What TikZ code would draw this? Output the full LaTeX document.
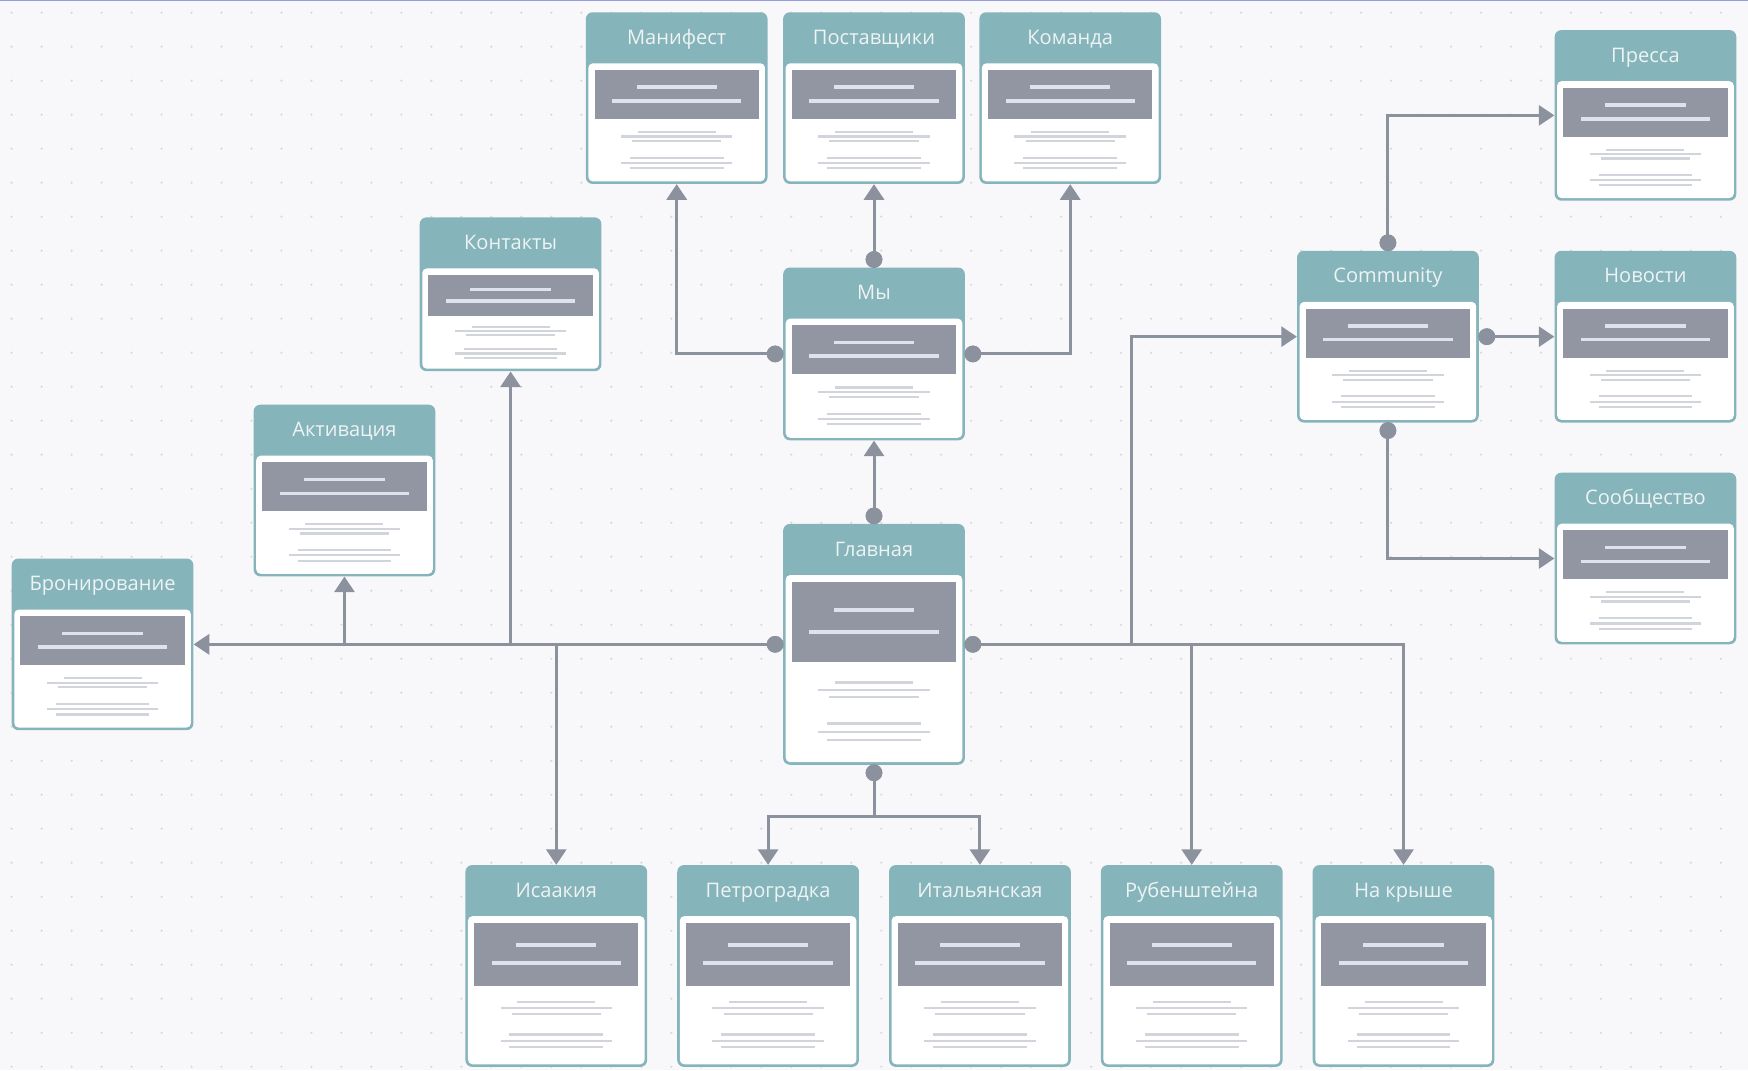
\documentclass[tikz,border=0pt]{standalone}
\usepackage{fontspec}
\setmainfont{Open Sans}
\usetikzlibrary{arrows.meta,calc}
\definecolor{bg}{RGB}{248,248,251}
\definecolor{gridc}{RGB}{216,216,224}
\definecolor{head}{RGB}{133,180,187}
\definecolor{grayrect}{RGB}{145,150,162}
\definecolor{glight}{RGB}{222,226,236}
\definecolor{tline}{RGB}{210,212,219}
\definecolor{lc}{RGB}{140,145,158}
\definecolor{topline}{RGB}{150,156,225}
\definecolor{htext}{RGB}{238,243,244}
\tikzset{
  cardnode/.style={rectangle, fill=head, rounded corners=6pt, minimum width=163pt, inner sep=0pt, draw=none},
  headtext/.style={text=htext, font=\fontsize{18}{21}\selectfont, inner sep=0pt, anchor=base},
  dot/.style={circle, fill=lc, minimum size=15pt, inner sep=0pt},
  conn/.style={draw=lc, line width=2.7pt},
  arr/.style={conn, -{Triangle[width=18pt,length=14pt]}},
}
\newcommand\card[6]{%
  \node[cardnode, minimum height=#4pt] (#1) at (#2,{#3+#4/2}) {};
  \fill[white, rounded corners=4pt] ($(#1.north west)+(2.5,46)$) rectangle ($(#1.south east)+(-2.5,-2.5)$);
  \fill[grayrect] ($(#1.north west)+(8,52)$) rectangle ($(#1.north east)+(-8,{52+#6})$);
  \draw[glight, line width=3.2pt] ($(#1.north)+(-36,{52+0.35*#6})$) -- ++(72,0);
  \draw[glight, line width=3.2pt] ($(#1.north)+(-58,{52+0.63*#6})$) -- ++(116,0);
  \foreach \f/\w in {0.2/70,0.27/100,0.34/80,0.6/84,0.68/100,0.76/84}{%
    \draw[tline, line width=1.9pt] ($(#1.north)+({-\w/2},{52+#6+\f*(#4-52-#6)})$) -- ++(\w,0);}
  \node[headtext] (#1-t) at ($(#1.north)+(0,29)$) {#5};
}
\begin{document}
\begin{tikzpicture}[x=1pt,y=-1pt]
\useasboundingbox (0,0) rectangle (1568,960);
\fill[bg] (0,0) rectangle (1568,960);
\foreach \i in {0,...,58}{\foreach \j in {0,...,31}{%
  \fill[gridc] ({10.4+26.9*\i},{11.4+30.5*\j}) circle (1.1pt);}}
\draw[topline, line width=1.5pt] (0,0.5) -- (1568,0.5);

\card{man}{607}{11}{154}{Манифест}{44}
\card{pos}{784}{11}{154}{Поставщики}{44}
\card{kom}{960}{11}{154}{Команда}{44}
\card{kon}{458}{195}{138}{Контакты}{37}
\card{my}{784}{240}{155}{Мы}{44}
\card{akt}{309}{363}{154}{Активация}{44}
\card{bro}{92}{501}{154}{Бронирование}{44}
\card{gl}{784}{470}{216}{Главная}{72}
\card{com}{1245}{225}{154}{Community}{44}
\card{pre}{1476}{27}{153}{Пресса}{44}
\card{nov}{1476}{225}{154}{Новости}{44}
\card{soo}{1476}{424}{154}{Сообщество}{44}
\card{isa}{499}{776}{181}{Исаакия}{57}
\card{pet}{689}{776}{181}{Петроградка}{57}
\card{ita}{879}{776}{181}{Итальянская}{57}
\card{rub}{1069}{776}{181}{Рубенштейна}{57}
\card{nak}{1259}{776}{181}{На крыше}{57}

% connection dots
\node[dot] (glt) at ($(gl.north)+(0,-7)$) {};
\node[dot] (gll) at ($(gl.west)+(-7,0)$) {};
\node[dot] (glr) at ($(gl.east)+(7,0)$) {};
\node[dot] (glb) at ($(gl.south)+(0,7)$) {};
\node[dot] (myt) at ($(my.north)+(0,-7)$) {};
\node[dot] (myl) at ($(my.west)+(-7,0)$) {};
\node[dot] (myr) at ($(my.east)+(7,0)$) {};
\node[dot] (ct) at ($(com.north)+(0,-7)$) {};
\node[dot] (cr) at ($(com.east)+(7,0)$) {};
\node[dot] (cb) at ($(com.south)+(0,7)$) {};

% Главная
\draw[arr] (glt.center) -- (my.south);
\draw[arr] (gll.center) -- (bro.east);
\draw[arr] (gll.center -| akt.south) -- (akt.south);
\draw[arr] (gll.center -| kon.south) -- (kon.south);
\draw[arr] (gll.center -| isa.north) -- (isa.north);
\draw[arr] (glr.center) -| (nak.north);
\draw[arr] (glr.center -| rub.north) -- (rub.north);
\coordinate (cjx) at (1015,0);
\coordinate (cj) at (glr.center -| cjx);
\draw[arr] (cj) |- (com.west);
\coordinate (bj) at ($(glb.center)+(0,39)$);
\draw[conn] (glb.center) -- (bj);
\draw[arr] (bj) -| (pet.north);
\draw[arr] (bj) -| (ita.north);
% Мы
\draw[arr] (myt.center) -- (pos.south);
\draw[arr] (myl.center) -| (man.south);
\draw[arr] (myr.center) -| (kom.south);
% Community
\draw[arr] (ct.center) |- (pre.west);
\draw[arr] (cr.center) -- (nov.west);
\draw[arr] (cb.center) |- (soo.west);
% dots on top of the lines
\foreach \d in {glt,gll,glr,glb,myt,myl,myr,ct,cr,cb}{\fill[lc] (\d.center) circle (7.5pt);}
\end{tikzpicture}
\end{document}
